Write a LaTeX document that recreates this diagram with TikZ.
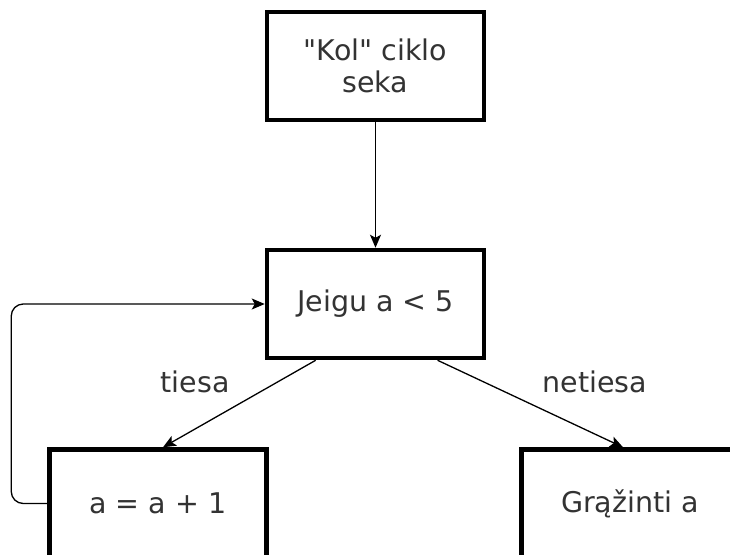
\documentclass[tikz,border=0pt]{standalone}
\usepackage{fontspec}
\newfontfamily\dvfont{DejaVu Sans}
\usetikzlibrary{arrows.meta,calc}
\definecolor{txt}{HTML}{333333}
\tikzset{
  box/.style={draw=black, line width=4.5pt, fill=white, minimum width=217pt, minimum height=108pt,
    inner sep=0pt, align=center, text=txt, font=\dvfont\fontsize{28.5}{32}\selectfont},
  conn/.style={draw=black, line width=1.3pt, -{Stealth[length=13pt,width=11pt,inset=3pt]}},
  lbl/.style={text=txt, font=\dvfont\fontsize{28.5}{32}\selectfont, inner sep=0pt}
}
\begin{document}
\begin{tikzpicture}[x=1pt,y=-1pt]
\useasboundingbox (0,0) rectangle (730,554);
\clip (0,0) rectangle (730,554);
\node[box] (top) at (375.5,66) {"Kol" ciklo\\seka};
\node[box] (mid) at (375.5,304) {Jeigu a < 5};
\node[box] (bl) at (158,503.5) {a = a + 1};
\node[box] (br) at (630,503.5) {Grąžinti a};
\draw[conn] (top.south) -- (mid.north);
\draw[conn] ($(mid.south west)!0.23!(mid.south east)$) -- ($(bl.north)+(5,0)$);
\draw[conn] ($(mid.south west)!0.78!(mid.south east)$) -- ($(br.north)+(-7,0)$);
\draw[conn, rounded corners=12pt] (bl.west) -- ++(-36,0) |- (mid.west);
\node[lbl] (t) at (195,382) {tiesa};
\node[lbl] (n) at (595,382) {netiesa};
\end{tikzpicture}
\end{document}
